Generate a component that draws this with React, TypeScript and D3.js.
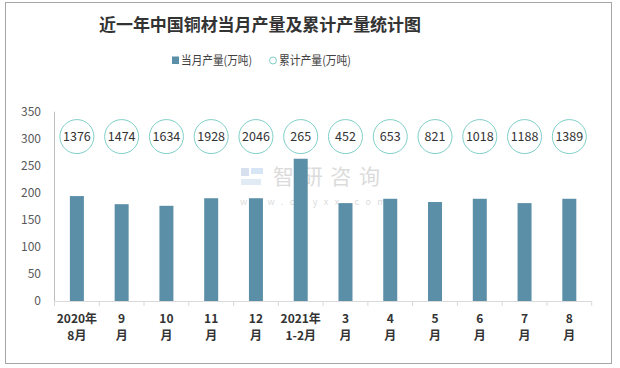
import React from "react";
import * as d3 from "d3";

const categories = [
  ["2020年", "8月"], ["9", "月"], ["10", "月"], ["11", "月"], ["12", "月"], ["2021年", "1-2月"],
  ["3", "月"], ["4", "月"], ["5", "月"], ["6", "月"], ["7", "月"], ["8", "月"],
];
const monthly = [194, 179, 176, 190, 190, 263, 181, 189, 183, 189, 181, 189];
const cumulative = [1376, 1474, 1634, 1928, 2046, 265, 452, 653, 821, 1018, 1188, 1389];
const yTicks = [0, 50, 100, 150, 200, 250, 300, 350];
const labelLevel = 304;

export default function App() {
  const W = 620, H = 368;
  const x0 = 54.5, x1 = 591.7, y0 = 301, yTop = 111.7;
  const x = d3.scaleBand<number>().domain(d3.range(categories.length)).range([x0, x1]);
  const y = d3.scaleLinear().domain([0, 350]).range([y0, yTop]);
  const font = "'Noto Sans CJK SC', 'Noto Sans', sans-serif";
  return (
    <svg width={W} height={H} style={{ position: "absolute", left: 0, top: 0 }} fontFamily={font}>
      <rect x={0} y={0} width={W} height={H} fill="#fff" />
      <rect x={5.5} y={2.5} width={606} height={361} fill="#fff" stroke="#a6a6a6" strokeWidth={1} />
      <text x={260} y={31} textAnchor="middle" fontSize={17} fontWeight="bold" fill="#333" textLength={322}>
        近一年中国铜材当月产量及累计产量统计图
      </text>
      {/* legend */}
      <rect x={172} y={56.5} width={7} height={7.5} fill="#5b8fa8" />
      <text x={181} y={65} fontSize={12} fill="#404040" textLength={71} lengthAdjust="spacingAndGlyphs">当月产量(万吨)</text>
      <circle cx={273} cy={60.5} r={3.5} fill="#fff" stroke="#7fcfc7" strokeWidth={1} />
      <text x={279} y={65} fontSize={12} fill="#404040" textLength={72} lengthAdjust="spacingAndGlyphs">累计产量(万吨)</text>

      {/* watermark */}
      <g opacity={0.35}>
        <rect x={241} y={168} width={8} height={8} fill="#8fa8d0" />
        <rect x={251} y={168} width={12} height={6} fill="#8fb8e0" />
        <rect x={241} y={179} width={20} height={6} fill="#a8c8e8" />
        <text x={273} y={184} fontSize={21} fill="#999" textLength={107}>智研咨询</text>
        <text x={240} y={205} fontSize={9} fill="#999" letterSpacing={6.5}>www.chyxx.com</text>
      </g>

      {/* y axis */}
      <line x1={x0} x2={x0} y1={yTop} y2={y0} stroke="#bfbfbf" />
      {yTicks.map((t) => (
        <text key={t} x={41} y={y(t) + 4} textAnchor="end" fontSize={12} fill="#595959">{t}</text>
      ))}
      {/* x axis */}
      <line x1={x0} x2={x1} y1={y0 + 0.5} y2={y0 + 0.5} stroke="#d9d9d9" />
      {d3.range(categories.length + 1).map((i) => {
        const xx = i < categories.length ? x(i)! : x1;
        return <line key={i} x1={xx} x2={xx} y1={y0} y2={y0 + 5} stroke="#d9d9d9" />;
      })}
      {monthly.map((v, i) => (
        <rect key={i} x={x(i)! + x.bandwidth() / 2 - 7} y={y(v)} width={14} height={y0 - y(v)} fill="#5b8fa8" />
      ))}
      {cumulative.map((v, i) => {
        const cx = x(i)! + x.bandwidth() / 2;
        const cy = y(labelLevel);
        return (
          <g key={i}>
            <circle cx={cx} cy={cy} r={17} fill="#fff" stroke="#7fcfc7" strokeWidth={1} />
            <text x={cx} y={cy + 4.5} textAnchor="middle" fontSize={12.5} fill="#333">{v}</text>
          </g>
        );
      })}
      {categories.map((c, i) => {
        const cx = x(i)! + x.bandwidth() / 2;
        return (
          <g key={i}>
            <text x={cx} y={323} textAnchor="middle" fontSize={12} fontWeight="bold" fill="#333">{c[0]}</text>
            <text x={cx} y={340} textAnchor="middle" fontSize={12} fontWeight="bold" fill="#333">{c[1]}</text>
          </g>
        );
      })}
    </svg>
  );
}
